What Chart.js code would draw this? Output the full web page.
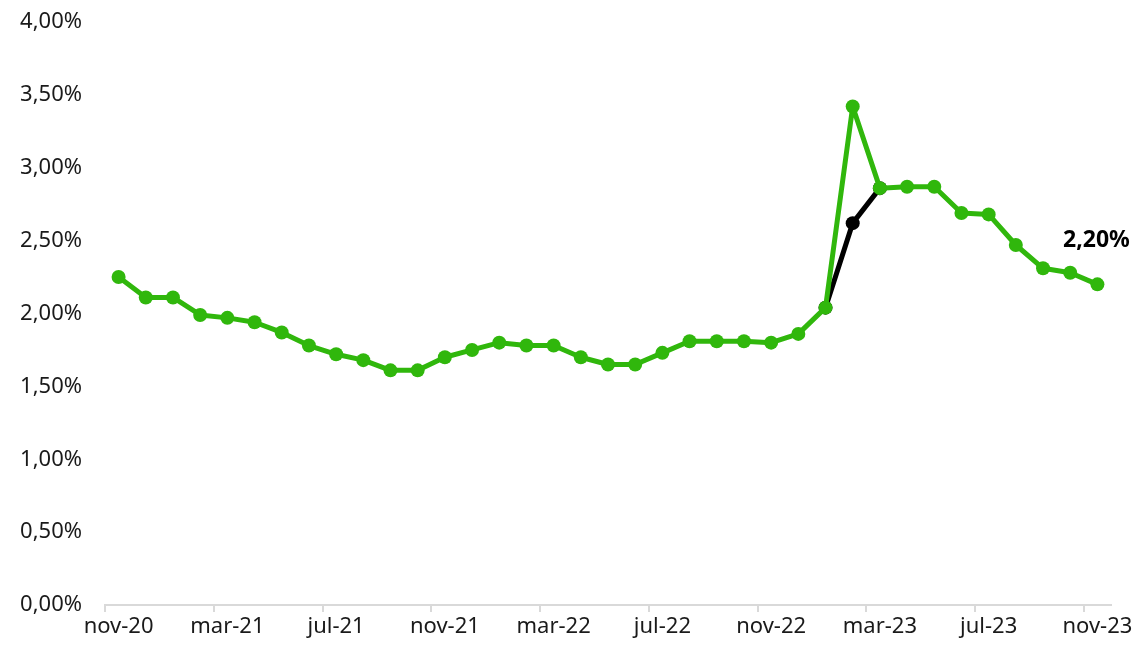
<!DOCTYPE html>
<html>
<head>
<meta charset="utf-8">
<script src="https://cdn.jsdelivr.net/npm/chart.js@4"></script>
<style>
  html, body { margin: 0; padding: 0; background: #ffffff; }
  #wrap { width: 1142px; height: 646px; }
</style>
</head>
<body>
<div id="wrap"><canvas id="chart"></canvas></div>
<script>
const months = ['nov-20','dic-20','gen-21','feb-21','mar-21','apr-21','mag-21','giu-21','jul-21','ago-21','set-21','ott-21',
                'nov-21','dic-21','gen-22','feb-22','mar-22','apr-22','mag-22','giu-22','jul-22','ago-22','set-22','ott-22',
                'nov-22','dic-22','gen-23','feb-23','mar-23','apr-23','mag-23','giu-23','jul-23','ago-23','set-23','ott-23','nov-23'];

// serie principale (verde)
const tassoVerde = [2.25, 2.11, 2.11, 1.99, 1.97, 1.94, 1.87, 1.78, 1.72, 1.68, 1.61, 1.61,
                    1.70, 1.75, 1.80, 1.78, 1.78, 1.70, 1.65, 1.65, 1.73, 1.81, 1.81, 1.81,
                    1.80, 1.86, 2.04, 3.42, 2.86, 2.87, 2.87, 2.69, 2.68, 2.47, 2.31, 2.28, 2.20];

// variante (nera) solo su gen-23 .. mar-23
const tassoNero = [null, null, null, null, null, null, null, null, null, null, null, null,
                   null, null, null, null, null, null, null, null, null, null, null, null,
                   null, null, 2.04, 2.62, 2.86, null, null, null, null, null, null, null, null];

const yTicks = [0, 0.5, 1, 1.5, 2, 2.5, 3, 3.5, 4];

const fmt = v => v.toFixed(2).replace('.', ',') + '%';
const FONT = '"Noto Sans", "Open Sans", sans-serif';
const GREEN = '#30b70c';

// etichetta sull'ultimo punto
const lastLabel = {
    id: 'lastLabel',
    afterDatasetsDraw(chart) {
        const meta = chart.getDatasetMeta(1);
        const i = tassoVerde.length - 1;
        const pt = meta.data[i];
        const ctx = chart.ctx;
        ctx.save();
        ctx.font = 'bold 23px ' + FONT;
        ctx.fillStyle = '#000000';
        ctx.textAlign = 'center';
        ctx.textBaseline = 'middle';
        ctx.fillText(fmt(tassoVerde[i]), pt.x - 1, pt.y - 44);
        ctx.restore();
    }
};

var ctx = document.getElementById('chart').getContext('2d');
var myChart = new Chart(ctx, {
    type: 'line',
    data: {
        labels: months,
        datasets: [{
            label: 'nero',
            data: tassoNero,
            borderColor: '#000000',
            backgroundColor: '#000000',
            borderWidth: 5,
            borderJoinStyle: 'round',
            borderCapStyle: 'round',
            pointRadius: 7,
            pointBorderWidth: 0,
            tension: 0,
            order: 2
        }, {
            label: 'verde',
            data: tassoVerde,
            borderColor: GREEN,
            backgroundColor: GREEN,
            borderWidth: 5,
            borderJoinStyle: 'round',
            borderCapStyle: 'round',
            pointRadius: 7,
            pointBorderWidth: 0,
            tension: 0,
            order: 1
        }]
    },
    options: {
        responsive: true,
        maintainAspectRatio: false,
        animation: false,
        layout: { padding: { top: 22, right: 31, bottom: 0, left: 0 } },
        plugins: {
            legend: { display: false },
            tooltip: { enabled: false }
        },
        scales: {
            x: {
                offset: true,
                afterFit: s => { s.height = 41; },
                grid: {
                    offset: true,
                    drawOnChartArea: false,
                    drawTicks: true,
                    tickLength: 7,
                    lineWidth: 2,
                    color: c => (c.index % 4 === 0 ? '#d9d9d9' : 'rgba(0,0,0,0)')
                },
                border: { display: true, color: '#d9d9d9', width: 2 },
                ticks: {
                    autoSkip: false,
                    maxRotation: 0,
                    padding: 2,
                    color: '#1a1a1a',
                    font: { family: FONT, size: 22 },
                    callback: (v, i) => (i % 4 === 0 ? months[i] : '')
                }
            },
            y: {
                min: yTicks[0],
                max: yTicks[yTicks.length - 1],
                afterFit: s => { s.width = 105; s.paddingTop = 0; s.paddingBottom = 0; },
                afterBuildTicks: s => { s.ticks = yTicks.map(v => ({ value: v })); },
                grid: { display: false, drawTicks: false },
                border: { display: false },
                ticks: {
                    padding: 23,
                    color: '#1a1a1a',
                    font: { family: FONT, size: 22 },
                    callback: v => fmt(v)
                }
            }
        }
    },
    plugins: [lastLabel]
});
</script>
</body>
</html>
